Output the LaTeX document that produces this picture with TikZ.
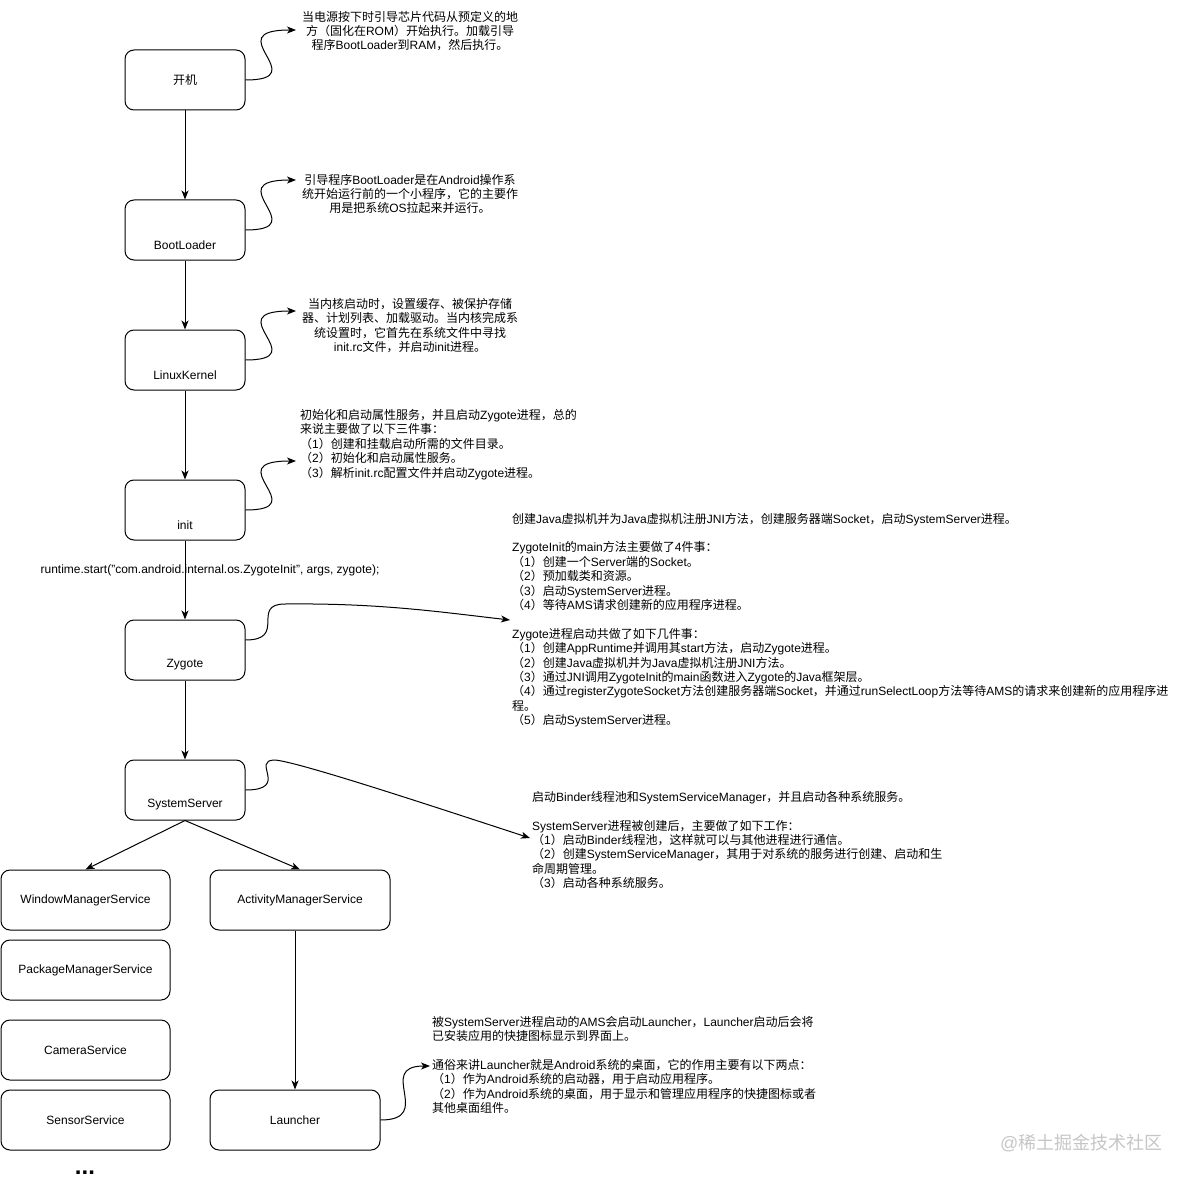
\documentclass[tikz,border=0pt]{standalone}
\usepackage{fontspec}
\setmainfont{Liberation Sans}
\newfontfamily\cjkfont{Noto Sans CJK SC}
\newfontfamily\latinfont{Liberation Sans}
\usetikzlibrary{arrows.meta,calc}
% automatic font switching for CJK characters
\XeTeXinterchartokenstate=1
\newXeTeXintercharclass\cjkcls
\newcount\cjkc
\def\setcjkrange#1#2{\cjkc=#1\relax\loop\XeTeXcharclass\cjkc=\cjkcls\relax\ifnum\cjkc<#2\relax\advance\cjkc by 1\relax\repeat}
\setcjkrange{"3000}{"303F}
\setcjkrange{"4E00}{"9FFF}
\setcjkrange{"FF00}{"FFEF}
\XeTeXinterchartoks 0 \cjkcls = {\cjkfont}
\XeTeXinterchartoks 4095 \cjkcls = {\cjkfont}
\XeTeXinterchartoks \cjkcls 0 = {\latinfont}
\XeTeXinterchartoks \cjkcls 4095 = {\latinfont}
\begin{document}
\begin{tikzpicture}[x=1pt,y=-1pt,
  box/.style={draw, line width=1pt, rounded corners=9pt, minimum width=120pt, minimum height=60pt, inner sep=0pt, font=\fontsize{12}{14.4}\selectfont},
  sbox/.style={box, minimum width=169pt},
  lbl/.style={inner sep=0pt, font=\fontsize{12}{14.4}\selectfont},
  txt/.style={inner sep=0pt, font=\fontsize{12}{14.4}\selectfont, align=left},
  ctxt/.style={inner sep=0pt, font=\fontsize{12}{14.4}\selectfont, align=center},
  arr/.style={draw, line width=1pt, -{Stealth[length=9pt,width=7pt,inset=2.5pt]}},
]
\fill[white] (0,0) rectangle (1191,1185);
\useasboundingbox (0,0) rectangle (1191,1185);

% main chain boxes
\node[box] (kj) at (185,80) {开机};
\node[box] (bl) at (185,230) {};
\node[lbl] (blt) at ([yshift=-15pt]bl.center) {BootLoader};
\node[box] (lk) at (185,360) {};
\node[lbl] (lkt) at ([yshift=-15pt]lk.center) {LinuxKernel};
\node[box] (in) at (185,510) {};
\node[lbl] (int) at ([yshift=-15pt]in.center) {init};
\node[box] (zy) at (185,650) {};
\node[lbl] (zyt) at ([yshift=-15pt]zy.center) {Zygote};
\node[box] (ss) at (185,790) {};
\node[lbl] (sst) at ([yshift=-15pt]ss.center) {SystemServer};

% services
\node[sbox] (wms) at (85.5,900) {WindowManagerService};
\node[sbox] (pms) at (85.5,970) {PackageManagerService};
\node[sbox] (cam) at (85.5,1050) {CameraService};
\node[sbox] (sen) at (85.5,1120) {SensorService};
\node[box, minimum width=180pt] (ams) at (300,900) {ActivityManagerService};
\node[box, minimum width=170pt] (lau) at (295,1120) {Launcher};
\node[inner sep=0pt, font=\fontsize{24}{26}\selectfont\bfseries] (dots) at (85,1173) {...};

% straight arrows
\draw[arr] (kj) -- (bl);
\draw[arr] (bl) -- (lk);
\draw[arr] (lk) -- (in);
\draw[arr] (in) -- (zy);
\draw[arr] (zy) -- (ss);
\draw[arr] (ss.south) -- (wms.north);
\draw[arr] (ss.south) -- (ams.north);
\draw[arr] (lau.north |- ams.south) -- (lau.north);

\node[lbl] (rt) at (210,570) {runtime.start("com.android.internal.os.ZygoteInit", args, zygote);};

% descriptions
\node[ctxt] (t1) at (410,31) {当电源按下时引导芯片代码从预定义的地\\方（固化在ROM）开始执行。加载引导\\程序BootLoader到RAM，然后执行。};
\node[ctxt] (t2) at (410,194) {引导程序BootLoader是在Android操作系\\统开始运行前的一个小程序，它的主要作\\用是把系统OS拉起来并运行。};
\node[ctxt] (t3) at (410,325.5) {当内核启动时，设置缓存、被保护存储\\器、计划列表、加载驱动。当内核完成系\\统设置时，它首先在系统文件中寻找\\init.rc文件，并启动init进程。};
\node[txt, anchor=west] (t4) at (300,444.5) {初始化和启动属性服务，并且启动Zygote进程，总的\\来说主要做了以下三件事：\\（1）创建和挂载启动所需的文件目录。\\（2）初始化和启动属性服务。\\（3）解析init.rc配置文件并启动Zygote进程。};
\node[txt, anchor=west] (t5) at (512,620) {创建Java虚拟机并为Java虚拟机注册JNI方法，创建服务器端Socket，启动SystemServer进程。\\[14.4pt]
ZygoteInit的main方法主要做了4件事：\\
（1）创建一个Server端的Socket。\\
（2）预加载类和资源。\\
（3）启动SystemServer进程。\\
（4）等待AMS请求创建新的应用程序进程。\\[14.4pt]
Zygote进程启动共做了如下几件事：\\
（1）创建AppRuntime并调用其start方法，启动Zygote进程。\\
（2）创建Java虚拟机并为Java虚拟机注册JNI方法。\\
（3）通过JNI调用ZygoteInit的main函数进入Zygote的Java框架层。\\
（4）通过registerZygoteSocket方法创建服务器端Socket，并通过runSelectLoop方法等待AMS的请求来创建新的应用程序进\\
程。\\
（5）启动SystemServer进程。};
\node[txt, anchor=west] (t6) at (532,840) {启动Binder线程池和SystemServiceManager，并且启动各种系统服务。\\[14.4pt]
SystemServer进程被创建后，主要做了如下工作：\\
（1）启动Binder线程池，这样就可以与其他进程进行通信。\\
（2）创建SystemServiceManager，其用于对系统的服务进行创建、启动和生\\
命周期管理。\\
（3）启动各种系统服务。};
\node[txt, anchor=west] (t7) at (432,1065) {被SystemServer进程启动的AMS会启动Launcher，Launcher启动后会将\\
已安装应用的快捷图标显示到界面上。\\[14.4pt]
通俗来讲Launcher就是Android系统的桌面，它的作用主要有以下两点：\\
（1）作为Android系统的启动器，用于启动应用程序。\\
（2）作为Android系统的桌面，用于显示和管理应用程序的快捷图标或者\\
其他桌面组件。};

% curved connectors
\coordinate (c1) at (296,30);
\coordinate (c2) at (296,180);
\coordinate (c3) at (296,311);
\coordinate (c4) at (296,461);
\coordinate (zc) at (285,604);
\coordinate (zend) at (510,620);
\coordinate (sc) at (275,760);
\coordinate (send) at (530,838);
\coordinate (lend) at (430,1066);
\draw[arr] (kj.east) .. controls +(70,0) and +(-80,0) .. (c1);
\draw[arr] (bl.east) .. controls +(70,0) and +(-80,0) .. (c2);
\draw[arr] (lk.east) .. controls +(70,0) and +(-80,0) .. (c3);
\draw[arr] (in.east) .. controls +(70,0) and +(-80,0) .. (c4);
\draw[arr] ([yshift=10pt]zy.east) .. controls +(42,0) and +(-35,0) .. (zc) .. controls (380,603) and (440,612) .. (zend);
\draw[arr] (ss.east) .. controls +(45,0) and +(-25,0) .. (sc) .. controls (300,762) and (450,812) .. (send);
\draw[arr] (lau.east) .. controls +(55,0) and +(-55,0) .. (lend);

% watermark
\node[inner sep=0pt, anchor=west, text=gray!45, font=\fontsize{18}{20}\selectfont] (wm) at (1000,1143) {@稀土掘金技术社区};
\end{tikzpicture}
\end{document}
